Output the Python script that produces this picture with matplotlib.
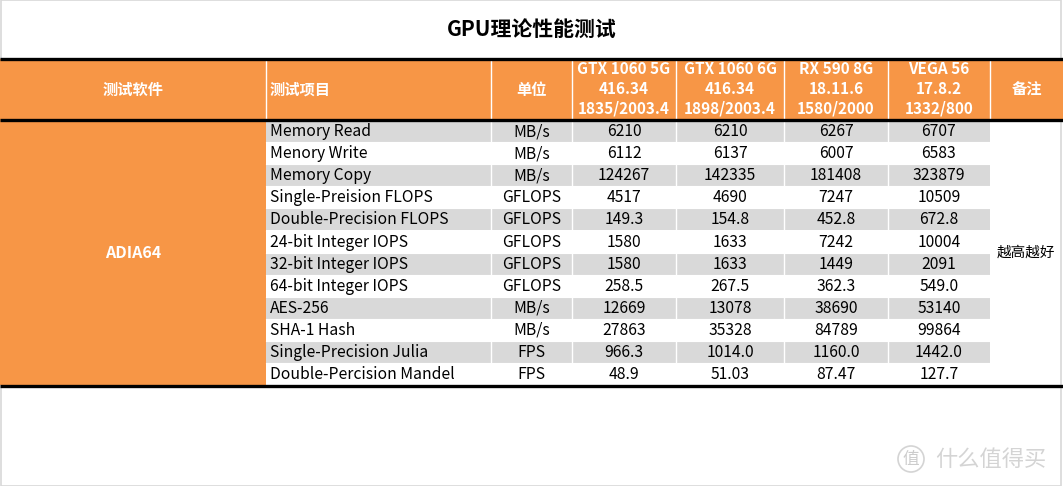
import matplotlib.pyplot as plt
from matplotlib.patches import Rectangle, Circle

plt.rcParams['font.family'] = ['Noto Sans CJK SC', 'DejaVu Sans']

# data
title = 'GPU理论性能测试'
header_labels = ['测试软件', '测试项目', '单位']
gpu_names = ['GTX 1060 5G\n416.34\n1835/2003.4',
             'GTX 1060 6G\n416.34\n1898/2003.4',
             'RX 590 8G\n18.11.6\n1580/2000',
             'VEGA 56\n17.8.2\n1332/800']
note_label = '备注'
software = 'ADIA64'
note_text = '越高越好'
items = ['Memory Read', 'Menory Write', 'Memory Copy', 'Single-Preision FLOPS',
         'Double-Precision FLOPS', '24-bit Integer IOPS', '32-bit Integer IOPS',
         '64-bit Integer IOPS', 'AES-256', 'SHA-1 Hash', 'Single-Precision Julia',
         'Double-Percision Mandel']
units = ['MB/s', 'MB/s', 'MB/s', 'GFLOPS', 'GFLOPS', 'GFLOPS', 'GFLOPS',
         'GFLOPS', 'MB/s', 'MB/s', 'FPS', 'FPS']
gtx1060_5g = ['6210', '6112', '124267', '4517', '149.3', '1580', '1580',
              '258.5', '12669', '27863', '966.3', '48.9']
gtx1060_6g = ['6210', '6137', '142335', '4690', '154.8', '1633', '1633',
              '267.5', '13078', '35328', '1014.0', '51.03']
rx590_8g = ['6267', '6007', '181408', '7247', '452.8', '7242', '1449',
            '362.3', '38690', '84789', '1160.0', '87.47']
vega56 = ['6707', '6583', '323879', '10509', '672.8', '10004', '2091',
          '549.0', '53140', '99864', '1442.0', '127.7']
values = [gtx1060_5g, gtx1060_6g, rx590_8g, vega56]

# layout (pixels)
W, H = 1063, 486
col_x = [0, 266, 491, 572, 676, 784, 888, 990, W]
top_line = 59
head_bot = 120
row_h = 22.1
orange = '#F79646'
gray = '#D9D9D9'
fs_body = 11.3
fs_head = 11

fig = plt.figure(figsize=(W / 100, H / 100), dpi=100)
ax = fig.add_axes([0, 0, 1, 1])
ax.set_xlim(0, W)
ax.set_ylim(H, 0)
ax.axis('off')

# outer light border
ax.add_patch(Rectangle((0.5, 0.5), W - 2.5, H - 1, fill=False, ec='#d8d8d8', lw=1.2))

ax.text(W / 2, 29, title, ha='center', va='center', fontsize=15, fontweight='bold')

# header
ax.add_patch(Rectangle((0, top_line), W, head_bot - top_line, color=orange, lw=0))
for x in col_x[1:-1]:
    ax.plot([x, x], [top_line, head_bot], color='white', lw=1)
hy = (top_line + head_bot) / 2
ax.text((col_x[0] + col_x[1]) / 2, hy, header_labels[0], ha='center', va='center',
        color='white', fontsize=fs_head, fontweight='bold')
ax.text(col_x[1] + 4, hy, header_labels[1], ha='left', va='center',
        color='white', fontsize=fs_head, fontweight='bold')
ax.text((col_x[2] + col_x[3]) / 2, hy, header_labels[2], ha='center', va='center',
        color='white', fontsize=fs_head, fontweight='bold')
for i, name in enumerate(gpu_names):
    cx = (col_x[3 + i] + col_x[4 + i]) / 2
    for j, line in enumerate(name.split('\n')):
        ax.text(cx, top_line + 10 + j * 19.5, line, ha='center', va='center',
                color='white', fontsize=fs_head, fontweight='bold')
ax.text((col_x[7] + col_x[8]) / 2, hy, note_label, ha='center', va='center',
        color='white', fontsize=fs_head, fontweight='bold')

# body
n = len(items)
body_bot = head_bot + n * row_h
ax.add_patch(Rectangle((0, head_bot), col_x[1], n * row_h, color=orange, lw=0))
ax.text(col_x[1] / 2, head_bot + n * row_h / 2, software, ha='center', va='center',
        color='white', fontsize=11.5, fontweight='bold')

for r in range(n):
    y0 = head_bot + r * row_h
    yc = y0 + row_h / 2 + 0.5
    if r % 2 == 0:
        ax.add_patch(Rectangle((col_x[1], y0), col_x[7] - col_x[1], row_h,
                               color=gray, lw=0))
    ax.text(col_x[1] + 4, yc, items[r], ha='left', va='center', fontsize=fs_body)
    ax.text((col_x[2] + col_x[3]) / 2, yc, units[r], ha='center', va='center',
            fontsize=fs_body)
    for i, col in enumerate(values):
        cx = (col_x[3 + i] + col_x[4 + i]) / 2
        ax.text(cx, yc, col[r], ha='center', va='center', fontsize=fs_body)

for x in col_x[2:7]:
    ax.plot([x, x], [head_bot, body_bot], color='white', lw=1)
for r in range(1, n):
    y = head_bot + r * row_h
    ax.plot([col_x[1], col_x[7]], [y, y], color='white', lw=0.8)

ax.text(col_x[7] + 7, head_bot + n * row_h / 2, note_text, ha='left', va='center',
        fontsize=10.5)

# thick black rules
for y in [top_line, head_bot, body_bot + 1]:
    ax.plot([0, W], [y, y], color='black', lw=2.4, solid_capstyle='butt')

# watermark
ax.add_patch(Circle((911, 459), 13, fill=False, ec='#d4d4d4', lw=1.2))
ax.text(911, 459, '值', ha='center', va='center', fontsize=12, color='#cccccc')
ax.text(935, 459, '什么值得买', ha='left', va='center', fontsize=16, color='#d4d4d4')

fig.savefig('out.png', dpi=100)
